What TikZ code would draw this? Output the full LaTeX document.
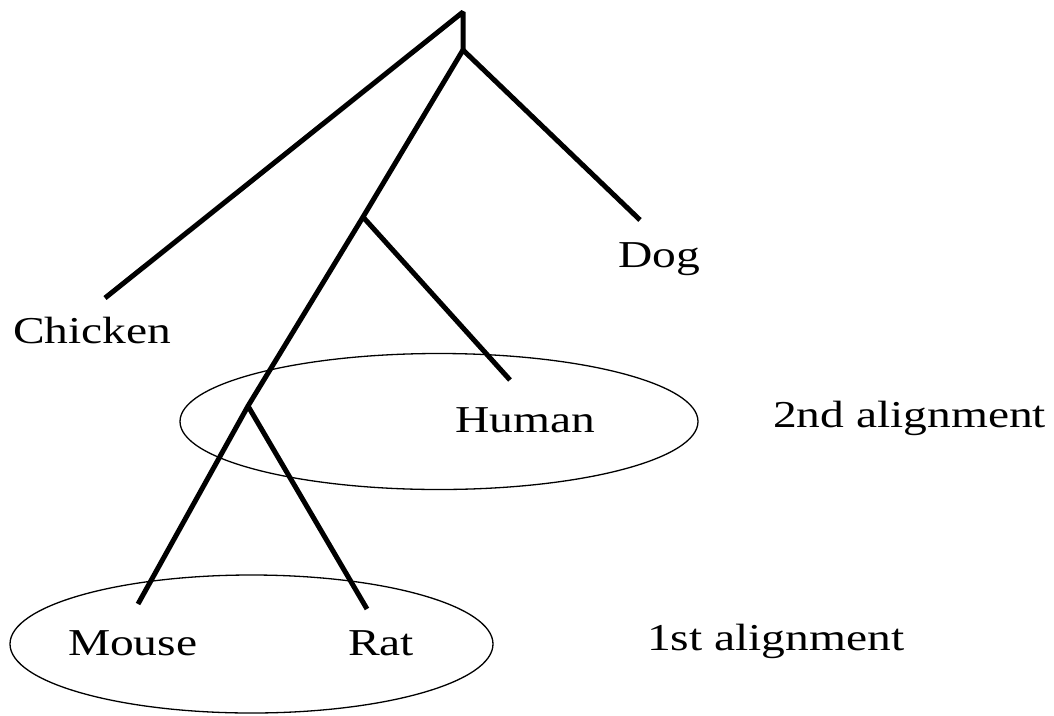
\documentclass[tikz,border=0pt]{standalone}
\usepackage{fontspec}
\setmainfont{Liberation Serif}
\begin{document}
\begin{tikzpicture}[x=1pt,y=-1pt,
  branch/.style={line width=5pt,line cap=butt,line join=bevel},
  group/.style={line width=1.3pt},
  lbl/.style={anchor=base west,inner sep=0pt,outer sep=0pt,font=\fontsize{38}{44}\selectfont}]
\useasboundingbox (0,0) rectangle (1054,715);
% tree coordinates
\coordinate (top) at (463,12);
\coordinate (root) at (463,50);
\coordinate (chk) at (105,298);
\coordinate (dog) at (640,220);
\coordinate (j1) at (363,217);
\coordinate (hum) at (510,380);
\coordinate (j2) at (248,406);
\coordinate (mou) at (138,604);
\coordinate (rat) at (367,609);
% branches
\draw[branch] (chk) -- (top) -- (root);
\draw[branch] (dog) -- (root) -- (j1) -- (j2);
\draw[branch] (j1) -- (hum);
\draw[branch] (mou) -- (j2) -- (rat);
% ellipses
\draw[group] (439,421.5) ellipse [x radius=259pt, y radius=68pt];
\draw[group] (251.5,644) ellipse [x radius=241.5pt, y radius=69pt];
% labels
\node[lbl] (tChicken) at (13,343) {\scalebox{1.25}[1]{Chicken}};
\node[lbl] (tDog) at (618,267) {\scalebox{1.25}[1]{Dog}};
\node[lbl] (tHuman) at (455,432) {\scalebox{1.25}[1]{Human}};
\node[lbl] (tSecond) at (773,427) {\scalebox{1.25}[1]{2nd alignment}};
\node[lbl] (tMouse) at (68,655) {\scalebox{1.25}[1]{Mouse}};
\node[lbl] (tRat) at (348,655) {\scalebox{1.25}[1]{Rat}};
\node[lbl] (tFirst) at (647,650) {\scalebox{1.25}[1]{1st alignment}};
\end{tikzpicture}
\end{document}
